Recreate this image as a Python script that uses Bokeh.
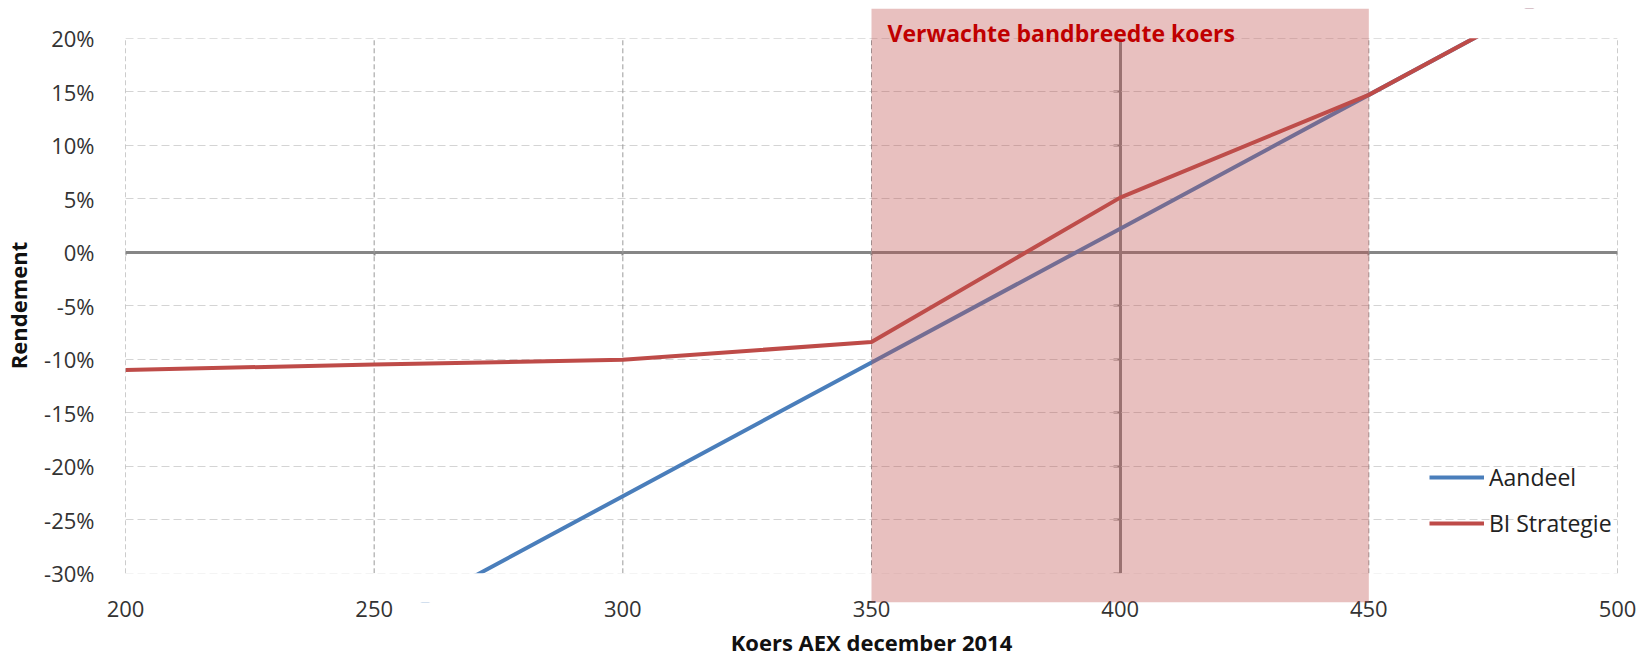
from bokeh.plotting import figure
from bokeh.models import (Range1d, FixedTicker, PrintfTickFormatter, LinearAxis,
                          BoxAnnotation, Label, CustomJSTickFormatter)
from bokeh.embed import file_html
from bokeh.resources import INLINE

# ---- data ----
koers = [200, 250, 300, 350, 400, 450, 500]
aandeel = [-47.8, -35.3, -22.8, -10.3, 2.2, 14.7, 27.2]
bi_strategie = [-11.0, -10.5, -10.05, -8.4, 5.1, 14.7, 27.2]
x_ticks = [200, 250, 300, 350, 400, 450, 500]
y_ticks = [-30, -25, -20, -15, -10, -5, 0, 5, 10, 15, 20]
band_low, band_high = 350, 450
band_label = "Verwachte bandbreedte koers"

FONT = "Open Sans"
BLUE = "#4A7EBB"
RED = "#BE4B48"
GRAY = "#868686"

p = figure(width=1638, height=659,
           x_range=Range1d(200, 500), y_range=Range1d(-32.73, 22.77),
           output_backend="svg", toolbar_location=None,
           min_border_left=113, min_border_right=21,
           min_border_top=8, min_border_bottom=56)
p.outline_line_color = None
p.background_fill_color = "white"
p.border_fill_color = "white"

# horizontal gridlines (the 0% line is drawn by the crossing axis)
p.xgrid.grid_line_color = None
p.ygrid.ticker = FixedTicker(ticks=[t for t in y_ticks if t != 0])
p.ygrid.grid_line_color = "#d4d4d4"
p.ygrid.grid_line_dash = "8 4"
p.ygrid.grid_line_width = 1

# vertical gridlines (only over the value range), axis crossing at 400 excluded
vx = [t for t in x_ticks if t != 400]
p.segment(x0=vx, y0=[min(y_ticks)] * len(vx), x1=vx, y1=[max(y_ticks)] * len(vx),
          line_color="#9a9a9a", line_width=1, line_dash="5 3")

# main y axis
p.yaxis.ticker = FixedTicker(ticks=y_ticks)
p.yaxis.formatter = PrintfTickFormatter(format="%d%%")
p.yaxis.axis_line_color = None
p.yaxis.major_tick_line_color = None
p.yaxis.minor_tick_line_color = None
p.yaxis.major_label_standoff = 25
p.yaxis.major_label_text_font = FONT
p.yaxis.major_label_text_font_size = "22px"
p.yaxis.major_label_text_color = "#333333"
p.yaxis.axis_label = "Rendement"
p.yaxis.axis_label_text_font = FONT
p.yaxis.axis_label_text_font_style = "bold"
p.yaxis.axis_label_text_font_size = "22px"
p.yaxis.axis_label_text_color = "#111111"
p.yaxis.axis_label_standoff = 8

# main x axis
p.xaxis.ticker = FixedTicker(ticks=x_ticks)
p.xaxis.axis_line_color = None
p.xaxis.major_tick_line_color = None
p.xaxis.minor_tick_line_color = None
p.xaxis.major_label_standoff = -8
p.xaxis.major_label_text_font = FONT
p.xaxis.major_label_text_font_size = "22px"
p.xaxis.major_label_text_color = "#333333"
p.xaxis.axis_label = "Koers AEX december 2014"
p.xaxis.axis_label_text_font = FONT
p.xaxis.axis_label_text_font_style = "bold"
p.xaxis.axis_label_text_font_size = "22px"
p.xaxis.axis_label_text_color = "#111111"
p.xaxis.axis_label_standoff = 7

empty = CustomJSTickFormatter(code="return ''")

# zero line axis (crossing at 0%)
zero_axis = LinearAxis(fixed_location=0, ticker=FixedTicker(ticks=x_ticks),
                       formatter=empty, bounds=(min(x_ticks), max(x_ticks)),
                       axis_line_color=GRAY, axis_line_width=3,
                       major_tick_line_color=GRAY, major_tick_line_width=2,
                       major_tick_out=3, major_tick_in=0,
                       minor_tick_line_color=None, level="underlay")
p.add_layout(zero_axis, "below")

# vertical axis crossing at 400
v_axis = LinearAxis(fixed_location=400, ticker=FixedTicker(ticks=y_ticks),
                    formatter=empty, bounds=(min(y_ticks), max(y_ticks)),
                    axis_line_color=GRAY, axis_line_width=3,
                    major_tick_line_color=GRAY, major_tick_line_width=2,
                    major_tick_out=7, major_tick_in=0,
                    minor_tick_line_color=None, level="underlay")
p.add_layout(v_axis, "left")

# series
p.line(koers, aandeel, line_color=BLUE, line_width=4, legend_label="Aandeel")
p.line(koers, bi_strategie, line_color=RED, line_width=4, legend_label="BI Strategie")

# series are only shown inside the value range (-30% .. 20%): white masks outside it
xl, xr = min(x_ticks) - 50, max(x_ticks) + 50
p.quad(left=[xl, xl], right=[xr, xr],
       bottom=[-1000, max(y_ticks)], top=[min(y_ticks), 1000],
       fill_color="white", line_color=None)

# expected range band
band = BoxAnnotation(left=band_low, right=band_high, fill_color="#C0504D",
                     fill_alpha=0.36, line_color=None)
p.add_layout(band)
p.add_layout(Label(x=band_low, y=20.45, x_offset=16, text=band_label,
                   text_font=FONT, text_font_style="bold", text_font_size="23px",
                   text_color="#C00000", text_baseline="alphabetic"))

# legend
lg = p.legend[0]
lg.location = (1304, 63)
lg.padding = 0
lg.margin = 0
lg.border_line_color = None
lg.background_fill_alpha = 0
lg.label_text_font = FONT
lg.label_text_font_size = "23px"
lg.label_text_color = "#222222"
lg.glyph_width = 55
lg.glyph_height = 24
lg.label_height = 24
lg.spacing = 14
lg.label_standoff = 5

open("out.html", "w").write(file_html(p, INLINE))
